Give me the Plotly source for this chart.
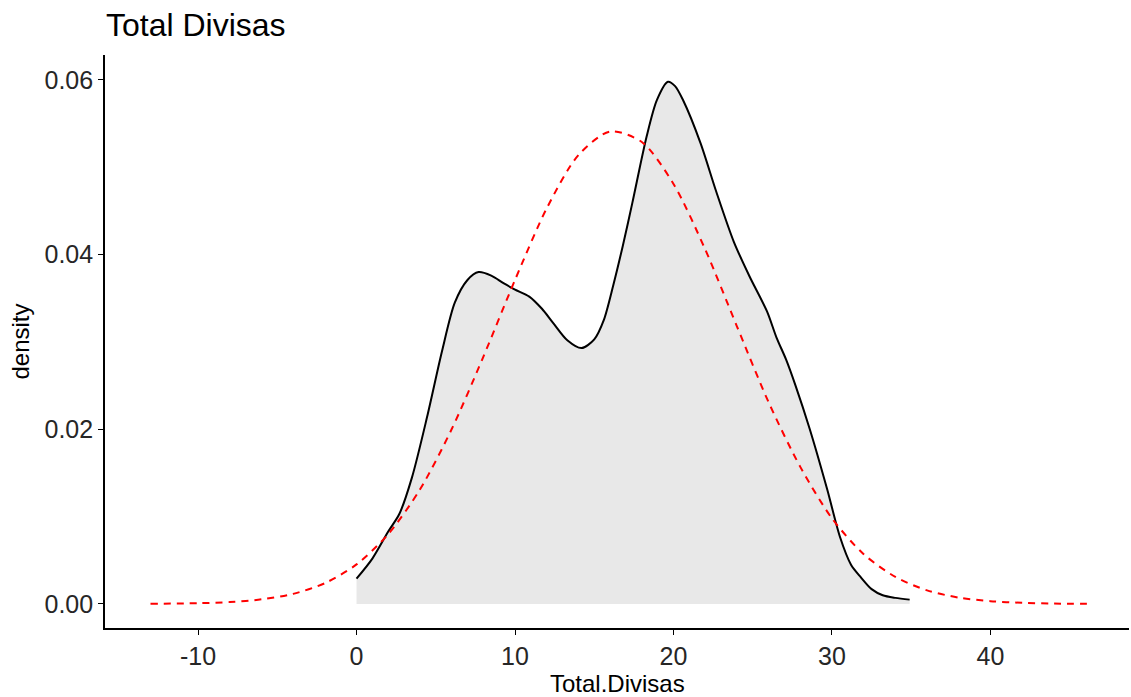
import plotly.graph_objects as go

# Kernel density of Total.Divisas
dens_x = [0.0, 1.0, 2.0, 2.7, 3.5, 4.45, 5.4, 6.2, 7.0, 7.7, 8.5, 9.3, 10.0, 10.9,
          11.7, 12.4, 13.3, 14.2, 15.0, 15.6, 16.2, 16.8, 17.4, 18.3, 18.95, 19.65,
          20.1, 20.6, 21.7, 22.7, 23.8, 24.8, 25.9, 26.5, 27.1, 27.7, 28.6, 29.7,
          30.5, 31.2, 31.8, 32.5, 33.2, 34.0, 34.9]
dens_y = [0.0029, 0.0052, 0.0083, 0.0103, 0.0145, 0.0214, 0.0290, 0.0345, 0.0371,
          0.0380, 0.0376, 0.0367, 0.0360, 0.0352, 0.0338, 0.0322, 0.0302, 0.0293,
          0.0303, 0.0325, 0.0365, 0.0410, 0.0459, 0.0535, 0.0577, 0.0598, 0.0593,
          0.0577, 0.0528, 0.0472, 0.0415, 0.0375, 0.0335, 0.0305, 0.0280, 0.0250,
          0.0200, 0.0131, 0.0077, 0.0045, 0.0031, 0.0017, 0.0010, 0.0007, 0.0005]

# Normal reference curve (red dashed)
norm_x = [-13, -10, -8, -6, -4, -2, 0, 2, 4, 6, 8, 10, 12, 14, 16, 18, 20, 22, 24,
          26, 28, 30, 32, 34, 36, 38, 40, 42, 44, 46.4]
norm_y = [0.00002, 0.00009, 0.00022, 0.00053, 0.00116, 0.00238, 0.00453, 0.0080,
          0.0131, 0.0200, 0.0283, 0.0371, 0.0453, 0.0514, 0.0541, 0.0529, 0.0481,
          0.0406, 0.0318, 0.0231, 0.0157, 0.0098, 0.0057, 0.0031, 0.00156, 0.00073,
          0.00032, 0.00013, 0.00005, 0.00001]

x_tick_vals = [-10, 0, 10, 20, 30, 40]
x_tick_text = ["-10", "0", "10", "20", "30", "40"]
y_tick_vals = [0.00, 0.02, 0.04, 0.06]
y_tick_text = ["0.00", "0.02", "0.04", "0.06"]

FONT = "Liberation Sans, Arial, sans-serif"

fig = go.Figure()
fig.add_trace(go.Scatter(
    x=dens_x, y=dens_y, mode="lines",
    line=dict(color="black", width=2, shape="spline", smoothing=0.8),
    fill="tozeroy", fillcolor="rgb(232,232,232)",
    hoverinfo="skip", showlegend=False))
fig.add_trace(go.Scatter(
    x=norm_x, y=norm_y, mode="lines",
    line=dict(color="#FF0000", width=2, dash="7px,6px", shape="spline", smoothing=0.8),
    hoverinfo="skip", showlegend=False))

fig.update_layout(
    width=1131, height=697,
    margin=dict(l=105, r=2, t=55, b=69),
    paper_bgcolor="white", plot_bgcolor="white",
    font=dict(family=FONT, color="black"),
    title=dict(text="Total Divisas", x=106 / 1131, xanchor="left", xref="container",
               y=1 - 25 / 697, yanchor="middle", yref="container",
               font=dict(size=32, color="black", family=FONT)),
    xaxis=dict(range=[-15.87, 48.74], tickvals=x_tick_vals, ticktext=x_tick_text,
               showgrid=False, zeroline=False, showline=True, linecolor="black",
               linewidth=1.6, ticks="outside", ticklen=5, tickwidth=1.4,
               tickcolor="black", tickfont=dict(size=25, color="#262626", family=FONT)),
    yaxis=dict(range=[-0.00275, 0.06286], tickvals=y_tick_vals, ticktext=y_tick_text,
               showgrid=False, zeroline=False, showline=True, linecolor="black",
               linewidth=1.6, ticks="outside", ticklen=5, tickwidth=1.4,
               tickcolor="black", tickfont=dict(size=25, color="#262626", family=FONT)),
    annotations=[
        dict(text="Total.Divisas", xref="paper", yref="paper", x=0.5, y=-(683 - 628) / 573,
             xanchor="center", yanchor="middle", showarrow=False,
             font=dict(size=24, color="black", family=FONT)),
        dict(text="density", xref="paper", yref="paper", x=(20 - 105) / 1024, y=0.5,
             xanchor="center", yanchor="middle", textangle=-90, showarrow=False,
             font=dict(size=24, color="black", family=FONT)),
    ],
)

fig.write_html("out.html")
